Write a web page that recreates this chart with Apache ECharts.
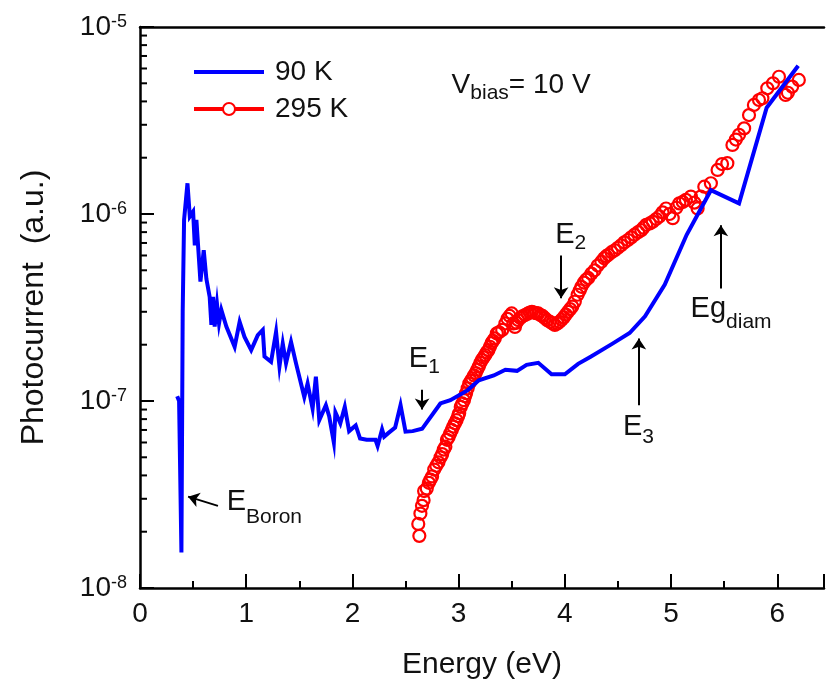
<!DOCTYPE html>
<html>
<head>
<meta charset="utf-8">
<script src="https://cdn.jsdelivr.net/npm/echarts@6/dist/echarts.min.js"></script>
<style>
  html, body { margin: 0; padding: 0; background: #fff; }
  #chart { width: 827px; height: 687px; }
</style>
</head>
<body>
<div id="chart"></div>
<script>
const FONT = '"Liberation Sans", Arial, Helvetica, sans-serif';
const INK = '#111';

// Photocurrent spectrum at 90 K (energy in eV, current in a.u.)
const energy90 = [0.350,0.368,0.390,0.402,0.415,0.447,0.469,0.500,0.516,0.531,0.569,0.600,0.625,0.656,0.672,0.688,0.703,0.725,0.744,0.766,0.813,0.891,0.938,0.984,1.047,1.109,1.156,1.172,1.234,1.281,1.313,1.344,1.375,1.422,1.469,1.547,1.578,1.625,1.656,1.688,1.750,1.781,1.825,1.840,1.886,1.928,1.969,2.031,2.072,2.134,2.217,2.237,2.279,2.299,2.340,2.402,2.453,2.500,2.567,2.656,2.828,2.922,3.083,3.190,3.331,3.440,3.550,3.640,3.750,3.875,4.000,4.125,4.239,4.445,4.610,4.755,4.941,5.147,5.375,5.640,5.900,6.197];
const current90 = [1.06e-7,1.00e-7,1.55e-8,3.0e-7,9.3e-7,1.46e-6,9.7e-7,1.03e-6,6.8e-7,9.3e-7,4.35e-7,6.4e-7,4.5e-7,3.6e-7,2.55e-7,3.6e-7,2.5e-7,3.3e-7,2.6e-7,3.07e-7,2.5e-7,1.95e-7,2.65e-7,2.2e-7,1.87e-7,2.25e-7,2.4e-7,1.73e-7,1.62e-7,2.34e-7,1.53e-7,2.03e-7,1.59e-7,2.07e-7,1.59e-7,1.05e-7,1.24e-7,9.1e-8,1.35e-7,7.9e-8,9.5e-8,8.3e-8,6.0e-8,8.7e-8,7.6e-8,9.3e-8,6.9e-8,7.4e-8,6.3e-8,6.2e-8,6.2e-8,5.75e-8,7.05e-8,6.45e-8,6.75e-8,7.2e-8,9.5e-8,6.85e-8,6.9e-8,7.1e-8,9.7e-8,1.01e-7,1.14e-7,1.29e-7,1.37e-7,1.47e-7,1.45e-7,1.56e-7,1.60e-7,1.39e-7,1.39e-7,1.58e-7,1.72e-7,2.02e-7,2.31e-7,2.84e-7,4.19e-7,7.74e-7,1.34e-6,1.14e-6,3.70e-6,6.20e-6];

// Photocurrent spectrum at 295 K
const energy295 = [2.630,2.620,2.640,2.655,2.670,2.675,2.700,2.720,2.735,2.750,2.770,2.790,2.810,2.830,2.845,2.860,2.875,2.890,2.905,2.920,2.935,2.950,2.965,2.980,2.995,3.005,3.020,3.035,3.050,3.060,3.070,3.085,3.100,3.115,3.130,3.145,3.160,3.175,3.190,3.205,3.220,3.235,3.250,3.265,3.280,3.295,3.310,3.325,3.340,3.360,3.380,3.410,3.440,3.460,3.480,3.500,3.515,3.530,3.545,3.560,3.580,3.600,3.625,3.650,3.670,3.690,3.710,3.730,3.750,3.770,3.790,3.810,3.835,3.860,3.885,3.906,3.930,3.950,3.970,3.990,4.010,4.030,4.050,4.070,4.094,4.120,4.140,4.156,4.180,4.200,4.220,4.250,4.280,4.310,4.344,4.370,4.390,4.410,4.440,4.470,4.500,4.530,4.560,4.594,4.625,4.656,4.690,4.720,4.740,4.766,4.800,4.828,4.860,4.890,4.920,4.953,4.985,5.016,5.050,5.078,5.110,5.140,5.187,5.220,5.250,5.280,5.313,5.375,5.438,5.480,5.530,5.578,5.610,5.640,5.688,5.734,5.780,5.828,5.860,5.906,5.960,6.016,6.078,6.100,6.140,6.203];
const current295 = [1.9e-8,2.2e-8,2.5e-8,2.75e-8,2.95e-8,3.3e-8,3.4e-8,3.65e-8,3.8e-8,3.95e-8,4.3e-8,4.5e-8,4.7e-8,5.0e-8,5.2e-8,5.5e-8,5.7e-8,6.2e-8,6.4e-8,6.7e-8,7.0e-8,7.3e-8,7.6e-8,7.9e-8,8.3e-8,8.6e-8,9.3e-8,9.7e-8,1.01e-7,1.06e-7,1.10e-7,1.17e-7,1.24e-7,1.28e-7,1.32e-7,1.37e-7,1.41e-7,1.47e-7,1.53e-7,1.60e-7,1.66e-7,1.71e-7,1.76e-7,1.82e-7,1.87e-7,1.95e-7,2.04e-7,2.10e-7,2.16e-7,2.30e-7,2.33e-7,2.40e-7,2.60e-7,2.75e-7,2.85e-7,2.94e-7,2.60e-7,2.49e-7,2.62e-7,2.71e-7,2.78e-7,2.84e-7,2.88e-7,2.93e-7,2.97e-7,3.00e-7,2.97e-7,2.95e-7,2.94e-7,2.88e-7,2.85e-7,2.78e-7,2.70e-7,2.65e-7,2.60e-7,2.55e-7,2.60e-7,2.65e-7,2.72e-7,2.80e-7,2.90e-7,3.00e-7,3.10e-7,3.20e-7,3.40e-7,3.70e-7,3.90e-7,4.08e-7,4.30e-7,4.45e-7,4.55e-7,4.80e-7,5.00e-7,5.30e-7,5.56e-7,5.80e-7,5.95e-7,6.05e-7,6.25e-7,6.40e-7,6.60e-7,6.80e-7,7.05e-7,7.26e-7,7.50e-7,7.75e-7,8.00e-7,8.20e-7,8.45e-7,8.75e-7,8.90e-7,9.10e-7,9.40e-7,9.70e-7,1.02e-6,1.07e-6,1.00e-6,9.50e-7,1.08e-6,1.14e-6,1.16e-6,1.19e-6,1.24e-6,1.15e-6,1.07e-6,1.24e-6,1.40e-6,1.46e-6,1.72e-6,1.85e-6,1.87e-6,2.34e-6,2.50e-6,2.65e-6,2.87e-6,3.38e-6,3.83e-6,4.07e-6,4.16e-6,4.70e-6,5.00e-6,5.42e-6,4.33e-6,4.45e-6,4.80e-6,5.21e-6];

const seriesNames = ['90 K', '295 K'];
const xTickLabels = ['0', '1', '2', '3', '4', '5', '6'];
const yDecades = [1e-8, 1e-7, 1e-6, 1e-5];

// Logarithmic minor ticks (2..9 within each decade)
const yMinorTicks = [];
yDecades.slice(0, -1).forEach(d => { for (let m = 2; m <= 9; m++) yMinorTicks.push(d * m); });

const zip = (xs, ys) => xs.map((x, i) => [x, ys[i]]);

const X_MAX = 6.44;
const axisLineStyle = { color: '#000', width: 2.5 };
const tickLineStyle = { color: '#000', width: 2 };

const chart = echarts.init(document.getElementById('chart'), null, { renderer: 'canvas' });

const option = {
  animation: false,
  backgroundColor: '#fff',
  grid: { left: 140, top: 27, right: 0, bottom: 99, containLabel: false },
  legend: {
    orient: 'vertical',
    left: 192, top: 58,
    padding: 0,
    itemWidth: 70, itemHeight: 15, itemGap: 9,
    textStyle: { fontSize: 28, fontFamily: FONT, color: INK, padding: [0, 0, 0, 6] },
    data: [
      { name: seriesNames[0], itemStyle: { opacity: 0 }, lineStyle: { width: 4, color: '#0000ff' } },
      { name: seriesNames[1], itemStyle: { color: '#fff', borderColor: '#ff0000', borderWidth: 2 },
        lineStyle: { width: 4, color: '#ff0000', opacity: 1 } }
    ]
  },
  xAxis: [
    {
      type: 'value', min: 0, max: X_MAX, interval: 1, position: 'bottom',
      axisLine: { show: true, onZero: false, lineStyle: axisLineStyle },
      axisTick: { show: true, inside: true, length: 14, lineStyle: tickLineStyle },
      axisLabel: {
        margin: 12, fontSize: 28, fontFamily: FONT, color: INK,
        formatter: v => { const i = Math.round(v); return Math.abs(v - i) < 1e-6 && xTickLabels[i] !== undefined ? xTickLabels[i] : ''; }
      },
      splitLine: { show: false },
      name: 'Energy (eV)', nameLocation: 'middle', nameGap: 62,
      nameTextStyle: { fontSize: 30, fontFamily: FONT, color: INK }
    },
    {
      type: 'value', min: 0, max: X_MAX, interval: 0.5, position: 'bottom',
      axisLine: { show: false },
      axisTick: { show: true, inside: true, length: 7, lineStyle: tickLineStyle },
      axisLabel: { show: false },
      splitLine: { show: false }
    },
    {
      type: 'value', min: 0, max: X_MAX, position: 'top',
      axisLine: { show: true, onZero: false, lineStyle: axisLineStyle },
      axisTick: { show: false }, axisLabel: { show: false }, splitLine: { show: false }
    }
  ],
  yAxis: [
    {
      type: 'log', logBase: 10, min: yDecades[0], max: yDecades[yDecades.length - 1], position: 'left',
      axisLine: { show: true, onZero: false, lineStyle: axisLineStyle },
      axisTick: { show: true, inside: true, length: 14, lineStyle: tickLineStyle },
      axisLabel: {
        margin: 13,
        formatter: v => '{b|10}{s|' + Math.round(Math.log10(v)) + '}',
        rich: {
          b: { fontSize: 28, lineHeight: 28, padding: [5, 0, 5, 0], fontFamily: FONT, color: INK, verticalAlign: 'middle' },
          s: { fontSize: 18, lineHeight: 18, fontFamily: FONT, color: INK, verticalAlign: 'top' }
        }
      },
      splitLine: { show: false },
      name: 'Photocurrent  (a.u.)', nameLocation: 'middle', nameGap: 90,
      nameTextStyle: { fontSize: 32, fontFamily: FONT, color: INK }
    }
  ],
  series: [
    {
      name: seriesNames[1], type: 'line', xAxisIndex: 0, yAxisIndex: 0, z: 2,
      data: zip(energy295, current295),
      symbol: 'circle', symbolSize: 12, showSymbol: true, showAllSymbol: true,
      itemStyle: { color: 'rgba(255,255,255,0)', borderColor: '#ff0000', borderWidth: 2.2 },
      lineStyle: { width: 0, color: '#ff0000' },
      emphasis: { disabled: true }
    },
    {
      name: seriesNames[0], type: 'line', xAxisIndex: 0, yAxisIndex: 0, z: 3,
      data: zip(energy90, current90),
      symbol: 'circle', showSymbol: false,
      itemStyle: { color: '#0000ff' },
      lineStyle: { width: 4, color: '#0000ff', join: 'miter' },
      emphasis: { disabled: true },
      markLine: {
        silent: true, animation: false,
        symbol: ['none', 'arrow'], symbolSize: 11,
        lineStyle: { color: '#000', width: 2, type: 'solid' },
        label: { show: false },
        emphasis: { disabled: true },
        data: [
          [{ coord: [0.734, 2.75e-8] }, { coord: [0.453, 3.08e-8] }],
          [{ coord: [2.656, 1.15e-7] }, { coord: [2.656, 9.0e-8] }],
          [{ coord: [3.965, 6.0e-7] }, { coord: [3.965, 3.54e-7] }],
          [{ coord: [4.697, 9.5e-8] }, { coord: [4.697, 2.16e-7] }],
          [{ coord: [5.469, 4.0e-7] }, { coord: [5.469, 8.7e-7] }]
        ]
      }
    },
    {
      // log minor ticks on the left axis, pointing into the plot
      type: 'custom', xAxisIndex: 0, yAxisIndex: 0, silent: true, clip: false, z: 4,
      data: yMinorTicks.map(v => [0, v]),
      renderItem: (params, api) => {
        const p = api.coord([api.value(0), api.value(1)]);
        return { type: 'line', shape: { x1: p[0], y1: p[1], x2: p[0] + 7, y2: p[1] },
                 style: { stroke: '#000', lineWidth: 2 } };
      }
    }
  ]
};

chart.setOption(option);

// Text annotations anchored in data space (top-left corner of the label box)
const notes = [
  { main: 'E',  sub: 'Boron', tail: '', at: [0.816, 3.45e-8], drop: 19, size: 29 },
  { main: 'E',  sub: '1',     tail: '', at: [2.531, 2.0e-7],  drop: 12, size: 29 },
  { main: 'E',  sub: '2',     tail: '', at: [3.909, 9.2e-7],  drop: 12, size: 29 },
  { main: 'E',  sub: '3',     tail: '', at: [4.547, 8.7e-8],  drop: 14, size: 29 },
  { main: 'Eg', sub: 'diam',  tail: '', at: [5.184, 3.73e-7], drop: 18, size: 29 },
  { main: 'V',  sub: 'bias',  tail: '= 10 V', at: [2.934, 5.78e-6], drop: 11, size: 28 }
];

const graphics = notes.map(n => {
  const p = chart.convertToPixel({ xAxisIndex: 0, yAxisIndex: 0 }, n.at);
  let text = '{m|' + n.main + '}{s|' + n.sub + '}';
  if (n.tail) text += '{m|' + n.tail + '}';
  return {
    type: 'text', x: p[0], y: p[1], silent: true, z: 10,
    style: {
      text: text, align: 'left', verticalAlign: 'top',
      rich: {
        m: { fontSize: n.size, lineHeight: n.size, fontFamily: FONT, fill: INK, verticalAlign: 'top' },
        s: { fontSize: 21, lineHeight: 21, fontFamily: FONT, fill: INK, verticalAlign: 'top', padding: [n.drop, 0, 0, 0] }
      }
    }
  };
});

chart.setOption({ graphic: graphics });
</script>
</body>
</html>
